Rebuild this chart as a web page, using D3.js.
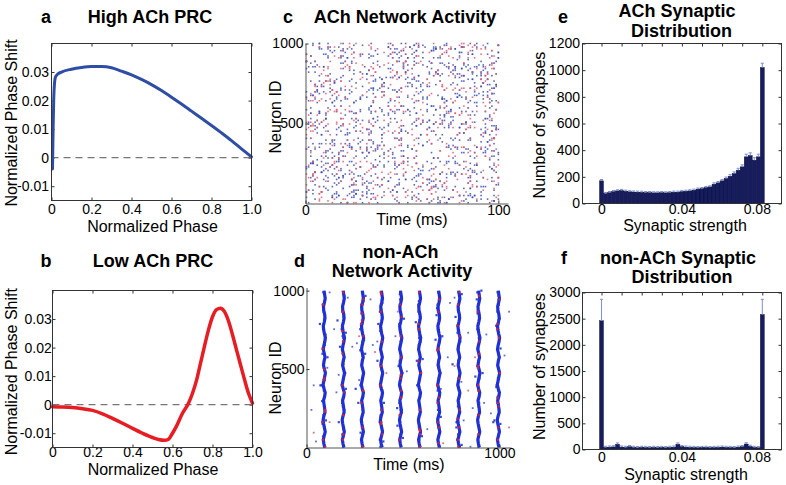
<!DOCTYPE html>
<html><head><meta charset="utf-8">
<script src="https://cdn.jsdelivr.net/npm/d3@7/dist/d3.min.js"></script>
<style>
html,body{margin:0;padding:0;background:#fff;}
svg{display:block;}
</style></head><body>
<svg id="fig" width="786" height="485" font-family="'Liberation Sans', Arial, Helvetica, sans-serif"></svg>
<script>
// ================= DATA =================
// (a) High ACh PRC
const highPhase = [0.005,0.008,0.011,0.015,0.02,0.03,0.05,0.1,0.15,0.2,0.25,0.3,0.35,0.4,0.45,0.5,0.55,0.6,0.65,0.7,0.75,0.8,0.85,0.9,0.95,1.0];
const highShift = [-0.004,0.010,0.020,0.026,0.0283,0.0292,0.0300,0.0310,0.0316,0.0319,0.0319,0.0315,0.0303,0.0290,0.0274,0.0256,0.0235,0.0212,0.0188,0.0163,0.0138,0.0113,0.0087,0.0060,0.0031,0.0003];
// (b) Low ACh PRC
const lowPhase = [0,0.05,0.1,0.15,0.2,0.25,0.3,0.35,0.4,0.45,0.5,0.53,0.56,0.58,0.6,0.62,0.65,0.68,0.7,0.72,0.74,0.76,0.78,0.8,0.82,0.84,0.86,0.88,0.9,0.92,0.94,0.96,0.98,1.0];
const lowShift = [-0.0007,-0.0008,-0.0010,-0.0014,-0.0020,-0.0032,-0.0048,-0.0065,-0.0083,-0.0100,-0.0115,-0.0122,-0.0125,-0.0121,-0.0100,-0.0075,-0.0030,0.0005,0.0040,0.0085,0.0145,0.0205,0.0262,0.0308,0.0333,0.0338,0.0326,0.0293,0.0245,0.0192,0.0140,0.0088,0.0040,0.0005];
const prcXTicks = [0,0.2,0.4,0.6,0.8,1.0];
const prcXLabels = ["0","0.2","0.4","0.6","0.8","1.0"];
const prcYTicks = [-0.01,0,0.01,0.02,0.03];
const prcYLabels = ["-0.01","0","0.01","0.02","0.03"];

// (e),(f) synaptic distributions
const synBins = [0,0.002,0.004,0.006,0.008,0.010,0.012,0.014,0.016,0.018,0.020,0.022,0.024,0.026,0.028,0.030,0.032,0.034,0.036,0.038,0.040,0.042,0.044,0.046,0.048,0.050,0.052,0.054,0.056,0.058,0.060,0.062,0.064,0.066,0.068,0.070,0.072,0.074,0.076,0.078,0.080];
const synAChCount = [170,75,82,90,95,98,92,88,86,85,84,82,82,80,80,82,80,82,85,85,90,92,95,100,108,112,120,125,145,155,170,188,205,225,250,275,350,360,325,350,1020];
const synAChErr   = [10,8,8,8,8,8,8,8,8,8,8,8,8,8,8,8,8,8,8,8,8,8,8,8,8,8,8,8,10,10,10,10,12,12,14,15,20,20,18,20,32];
const synNonCount = [2460,40,45,50,100,45,40,55,40,35,40,38,35,40,35,38,35,40,45,100,55,45,40,38,35,38,40,35,38,40,45,40,38,35,45,55,105,60,40,35,2580];
const synNonErr   = [410,22,22,22,25,22,22,22,22,22,22,22,22,22,22,22,22,22,22,25,22,22,22,22,22,22,22,22,22,22,22,22,22,22,22,22,25,22,22,22,290];
const synXTicks = [0,0.01,0.02,0.03,0.04,0.05,0.06,0.07,0.08];
const synXLabelTicks = [0,0.04,0.08];
const synXLabels = ["0","0.04","0.08"];
const synAChYTicks = [0,200,400,600,800,1000,1200];
const synNonYTicks = [0,500,1000,1500,2000,2500,3000];

// raster decoding table: position of a character in this string = grid index 0..89
const GRID = "aZ0#bY{cX5&dW)eV9+fU,gT2/hS:iR=7jQ@kP[]lO^mN4_nM`oL3|pK}qJ~$rI%sH'(tG*uF-.vE1wD;>xC?yB68zA";

// (c) ACh raster: chained characters, each adjacent pair = (time cell, neuron cell)
const spikesAChBlue = [
"k3#Tq}8Z.wB(m;Fr6Ux@j0N&eY%p9Hc]L*v4^g2R_X'aP{Q7,s+D1b~K$oE?iW5Ml=dG`8fS)t|zJ-",
"yA/nO3V:hC[u>I0r6e#2Wk*Pj9xb&Fm{Lq@5T-iS'zN;7gD%aU]8Rc+X1o?M|Ys4Hp(Ev=K_wf$B~Z,",
"Gt.l6J)dQ`3nA^hO:9uT#r&Wq0e]C5kP'y*V2M$xF-8bN|Ia{L;g7@Sz(D+4jR?mZ_1X%o=Hs6U~iY/",
"c]E>w3B`t9K,fQ&p5Ma{Gv$h0Dz'J;r8N)k*TLe2_S-4Ox=Yq|Ug6Ci#W@1mP%Z7sn.Fb+R^y?lA:dH~",
"X5o(j/V8gM'e3T{A0p]Kf;W#r6Ny@2cQ=lE*uI-8Za%9sD_Lh$4Bk|Gw?Rx^J)tP,v1S&Oi7Hm.b+FC~",
"U6n;q2Y'aE=k&T9f]Rv0L_Dh@p4Ow*I#zm%G-8cS{5iX)jB/P:1Ae^s~Kt3N$Wg7M|Fyr,Q?lu+Vb.ZJ",
"d8H`o0C%x5Sn*Ek]Wq'2Lz;A&f9U^Pr_Bj3G#Ty@m6Oc{I-4Ns$hV/Qa=7Yg)K~Db1X?Mw+e,lJ.iR|Fp",
"Z1k@u7D'T&h3Lx]o#Q;8Sb_Ve*2Jc(Ng%Wr5?Fm{Ay0Pi^6Ks-$Oz|9Rd=Ct4Hn)Ua,jG+Bw.lM7q~Ef",
"o4R]W9a;g&C1Ux'Kj*6Fs@H#2Ym_Nd%8Pt=Ai{3Lw-Eq$5Vb^Tz(0Gk)S?Oc+7Jn.Dr|Mh,IX1e~Bpfy",
"M2t`8Qe&Ax;Z4k]Ho'9W#c6Rv_Ky*1Pm%Dg{7Nu=3Si-Ea$5Lz^Fb(0Tq)Jn+Cw?8Ir.Gh|VdB,Ys~Ol",
"e9B]q3Nk'L&x0Sa;7Hw#Vi*5Gc_Rp%2Yn{Fu-8Do=Kj$4Az^Mt(1Wg)Qs?Eb+6Ix.Ul|Ph,3Cv~Tm9Jf",
"s5J'Az&c2Nu]8Pg;Kw#1Ho*6Dq_Tb%9Mx{3Ri-Gj=Ve$Fk^0Ly(7Qn)Ba?4Ct+Sr.Xm|8Ed,2Oh~Wi5U",
"b0Mx'7Fg&Rs]4Kn;1Ja#Yw*9Ct_Ee%Po{6Hz-3Di=Lu$8Gq^Uk(2Sb)Vm?5Nx+Ay.Fr|0Tc,7Ih~Qg3W",
"h7Cr]2Lp'Jm&6Wb;9Ng#Ax*1Tv_Sk%4Pe{8Hd-Fy=0Ri$Kz^5Mu(3Bo)Yl?7Gc+Ew.2Ua|Qj,9Os~Dt6I",
"v3Hq&8Zc'1Ep]Na;5Rk#Tg*7Mj_2Wy%Fl{4Kx-9Db=Ou$6Si^Lr(0Ce)Gn?3Az+Vh.8Pt|Jm,5Xf~Bq1Y"
].join("");
const spikesAChRed = [
"p4%Kd]9Ws'Bh2&Zm;Ex7#Nq*Lf0_Uj3%Gc{Yo-8Ra=Tk$5Iv^Ob(1Hy)Cn?6Mg+Sw.4Fz|Ae,8Pl~Di",
"Q6k'Hs&3Ta]Xn;0Jc#9Em*Vr_2Lb%Wg{5Oy-Az=8Pj$Fo^Kd(4Su)Ih?1Ng+Bx.7Rl|Mv,3Ct~Ye9Gq0",
"i2Tx]Ob'7Jk&Fa;Sm#4Hd*Lw_9Ce%Rv{1Pn-Zg=6Ey$Aq^3Ml(Uk)8Ws?Gi+0Nj.Dz|5Fo,Kc~Qb7Xh4",
"n8Ds'Wk&1Bq]Rf;5Lj#Jy*Ha_3Te%6Ou{Zc-Fx=0Im$9Gv^Pb(Sr)2Ag?Kn+Mh.7Ed|Cz,4Nl~Xi5Qw8",
"f1Rz]Kg'5Na&Ep;3Jt#Vh*7Ws_Dm%Cc{0Oy-9Lk=Fb$Ui^2Hq(6Pr)Gx?Sl+4Bj.Ae|8Td,1Mv~Yn3Zo6",
"w5Gc'Qj&8Lu]Ab;Tn#2Dx*Se_6Ik%4Pr{Ym-Hg=1Vf$Oz^9Mb(Cq)3Ja?Fs+7Nl.Ke|0Wh,Eo~5Rt8Xv2",
"a9Kq]Df'3Pw&Gm;6Bs#Ox*Jc_1Vi%Rn{8Ez-Lh=4Ty$Ua^7Nk(Fg)0Cl?Sb+2Mr.Hp|5Wj,Ad~Iv9Qe3X",
"t6Bn'Xg&4Ko]Sd;Hz#9Aq*Fl_2Ov%Mc{Jr-7Ei=Uw$0Py^5Gs(Lb)Th?3Rk+Nm.8Cf|Dj,1Wa~Vx6Ze4Q"
].join("");

// (d) non-ACh raster
const burstTimes = [92,191,290,389,488,586,686,790,893,995];      // ms
const burstNeuronGrid = [0,25,50,75,100,125,150,175,200,225,250,275,300,325,350,375,400,425,450,475,500,525,550,575,600,625,650,675,700,725,750,775,800,825,850,875,900,925,950,975,1000];
const burstShape = [3,-2,-5,0,5,1,-3,-6,-2,4,2,-1,-4,2,5,-1,-6,-2,2,6,1,-4,-1,4,0,-5,-2,3,6,1,-3,-5,0,4,2,-3,-4,1,5,2,-1]; // ms offset per neuron
// per burst: pairs (offset char, centred on 'Q'; neuron cell)
const burstSpikesBlue = [
"KzPbMfR#J)T9LqN.QeOwHSU]GkS4PmIxV~MaR0N%KeQrTdLjO_a3?kcV8uWHEp",
"OaLwQ3N&S^MkP8Rz)-TgK%JtUoQ>HcNvPyM2S{LhRlO*a'?JbQ9eVMGsT6NiOE",
"PqMcR2LxNy&QSfO7KkTzJ1U?QnH}MdP/RuSBN$LaOga6@XbpQ;VIGt9hNrPFM|",
"NgQvLbO4S'RnMyP0TjK(JeUDQsHwN+PkR`MiS5LfOZa#?uchQmVCGa7oNlP@Rx",
"RdNkOqMzQ%SvL3P_TbKhJ8UmQiHyNcP(MrRBSeLoO[b.>WcYQ2VgGn8TNxP:Lu",
"MxPgQjNaO-R5LsSrKwT)J?UfQcHkN~PzRvM1SnLdOHa{@ocLQ6VbG%9FNpPtMe",
"QbNrLzO9MeP&S-RkTmKxJ;UaQ_HgNvPlR=MwS0LyOta+?EbsQ{VnGj6INdPoR$",
"OjMcQwNlP5R|SyLeKcTaJ2UqQkH'NzPgRhMo,MSsLbOXa8@dcZQ;VrGe7vNmPi",
"LyRoNfPcO2MjQ}SbKnTwJ%UlQeH1NqPvR(MaSgLtOJbm?ycAQ4VhGz8ONkPxRu",
"NhPpQcMeO6RgSuLkKzT.JiU/QoH*NbPsR-MlS3LwOfa)>VdqQ8VxG@5eNjPnMy"
];
const burstSpikesRed = [
"MqP4SgN]Q,LxObTaKeRl","OzQ7NcRfLpPwM(SkTbKr","PdN1QsMhRyOaL-SjTxKu","QkM8NwOrP)RcLgSnTeKz","NbPjRxQ3M^OlLsSvTiKf",
"RmO5PgNzQaL&MuStTcKo","PwQ0NeMkRiOyL}SdTqKh","OsN9QlPbRdMxL*SgTzKa","QfP6RrNnOjMcL_SpTkKw","NuQ2PhOdRmMtL%SbTyKi"
];
// sparse spikes between bursts: pairs (time cell, neuron cell)
const sparseNonBlue = "#k$Q%3&z'B(e)7*V+m,J-a.T/10g4N7r;Hc@G[2]Dhe^5_xUiyWtlsoxAwc{8|R~b#T$9%p&F'fBsCD";
const sparseNonRed = "Ad#X2s=KcP^gkmv3yR~Lr0OwFj&e'n";

// ================= DRAW =================
const svg = d3.select("#fig");
const AX = "#333";
const FS_TICK = 14, FS_LAB = 16, FS_TTL = 18;

function label(x, y, s, size, o = {}) {
  const t = svg.append("text").attr("x", x).attr("y", y).text(s)
    .attr("font-size", size).attr("font-weight", o.bold ? "bold" : "normal")
    .attr("text-anchor", o.anchor || "middle").attr("fill", "#000");
  if (o.rot) t.attr("transform", `rotate(-90,${x},${y})`);
  return t;
}
function axis(fn, scale, vals, fmt, transform, pad, keepDomain) {
  const g = svg.append("g").attr("transform", transform);
  g.call(fn(scale).tickValues(vals).tickFormat(fmt).tickSize(-3).tickSizeOuter(0).tickPadding(pad));
  g.attr("font-family", null).attr("font-size", FS_TICK);
  g.selectAll("text").attr("fill", "#000");
  g.selectAll(".tick line").attr("stroke", AX);
  if (keepDomain) g.select(".domain").attr("stroke", "#555");
  else g.select(".domain").remove();
  return g;
}
const none = () => "";
function frame(x, y) {
  svg.append("rect").attr("x", x.range()[0]).attr("y", y.range()[1])
    .attr("width", x.range()[1] - x.range()[0]).attr("height", y.range()[0] - y.range()[1])
    .attr("fill", "none").attr("stroke", AX).attr("stroke-width", 1);
}

// ---------- PRC panels ----------
function prcPanel(x, y, phase, shift, color, width, pads) {
  const fmtX = d => prcXLabels[prcXTicks.indexOf(d)];
  const fmtY = d => prcYLabels[prcYTicks.indexOf(d)];
  axis(d3.axisBottom, x, prcXTicks, fmtX, `translate(0,${y.range()[0]})`, pads[0]);
  axis(d3.axisTop, x, prcXTicks, none, `translate(0,${y.range()[1]})`, 0);
  axis(d3.axisLeft, y, prcYTicks, fmtY, `translate(${x.range()[0]},0)`, pads[1]);
  axis(d3.axisRight, y, prcYTicks, none, `translate(${x.range()[1]},0)`, 0);
  svg.append("line").attr("x1", x(0)).attr("x2", x(1)).attr("y1", y(0)).attr("y2", y(0))
    .attr("stroke", "#777").attr("stroke-width", 1.3).attr("stroke-dasharray", "7,5");
  const line = d3.line().x(d => x(d[0])).y(d => y(d[1])).curve(d3.curveMonotoneX);
  svg.append("path").datum(phase.map((p, i) => [p, shift[i]])).attr("d", line)
    .attr("fill", "none").attr("stroke", color).attr("stroke-width", width)
    .attr("stroke-linejoin", "round").attr("stroke-linecap", "round");
  frame(x, y);
}
const xA = d3.scaleLinear().domain([0, 1]).range([51.5, 251.5]);
const yA = d3.scaleLinear().domain([-0.015, 0.04]).range([200.5, 43.5]);
prcPanel(xA, yA, highPhase, highShift, "#2e4ea6", 3, [4, 2.5]);
label(46, 22.5, "a", FS_TTL, {bold: true});
label(150, 22.5, "High ACh PRC", FS_TTL, {bold: true});
label(152.5, 231.5, "Normalized Phase", FS_LAB);
label(16.7, 123, "Normalized Phase Shift", FS_LAB, {rot: true});

const xB = d3.scaleLinear().domain([0, 1]).range([52.5, 252.5]);
const yB = d3.scaleLinear().domain([-0.015, 0.04]).range([447.5, 290.5]);
prcPanel(xB, yB, lowPhase, lowShift, "#e81d23", 3.5, [0, 0.8]);
label(46, 266.5, "b", FS_TTL, {bold: true});
label(153, 475, "Normalized Phase", FS_LAB);
label(153, 266.5, "Low ACh PRC", FS_TTL, {bold: true});
label(16.7, 371.7, "Normalized Phase Shift", FS_LAB, {rot: true});

// ---------- raster helpers ----------
const cell = c => GRID.indexOf(c);          // 0..89
const offCode = c => c.charCodeAt(0) - 81;  // 'Q' = 0
function chainPairs(str) { const out = []; for (let i = 0; i + 1 < str.length; i++) out.push([cell(str[i]), cell(str[i + 1])]); return out; }
function dots(data, x, y, color, size, op) {
  svg.append("g").selectAll("rect").data(data).join("rect")
    .attr("x", d => x(d[0]) - size / 2).attr("y", d => y(d[1]) - size / 2)
    .attr("width", size).attr("height", size).attr("fill", color).attr("opacity", op);
}

// ---------- (c) ACh network ----------
const xC = d3.scaleLinear().domain([0, 105]).range([305.5, 508]);
const yC = d3.scaleLinear().domain([0, 1000]).range([203.5, 43.5]);
const gridT = d3.scaleLinear().domain([0, 89]).range([0.5, 100]);
const gridN = d3.scaleLinear().domain([0, 89]).range([5, 1000]);
const cBlue = chainPairs(spikesAChBlue).map(d => [gridT(d[0]), gridN(d[1])]);
const cRed = chainPairs(spikesAChRed).map(d => [gridT(d[0]), gridN(d[1])]);
dots(cBlue, xC, yC, "#3e4fb8", 1.6, 0.85);
dots(cRed, xC, yC, "#e35a72", 1.6, 0.85);
axis(d3.axisLeft, yC, [500, 1000], d => String(d), `translate(${xC.range()[0]},0)`, 2, true);
axis(d3.axisBottom, xC, [0, 100], d => String(d), `translate(0,${yC.range()[0]})`, 1.5, true);
label(288, 22.5, "c", FS_TTL, {bold: true});
label(405, 22.5, "ACh Network Activity", FS_TTL, {bold: true});
label(412, 225, "Time (ms)", FS_LAB);
label(281, 117, "Neuron ID", FS_LAB, {rot: true});

// ---------- (d) non-ACh network ----------
const xD = d3.scaleLinear().domain([0, 1060]).range([306.5, 511]);
const yD = d3.scaleLinear().domain([0, 1020]).range([447.5, 287.5]);
const shapeAt = d3.scaleLinear().domain(burstNeuronGrid).range(burstShape);
const gridTD = d3.scaleLinear().domain([0, 89]).range([2, 1050]);
const offMs = 0.8;
const sparse = s => { const o = []; for (let i = 0; i + 1 < s.length; i += 2) o.push([gridTD(cell(s[i])), gridN(cell(s[i + 1]))]); return o; };
dots(sparse(sparseNonBlue), xD, yD, "#4455cc", 1.8, 0.85);
dots(sparse(sparseNonRed), xD, yD, "#e05a70", 1.8, 0.85);
const burst = (s, t) => { const o = []; for (let i = 0; i + 1 < s.length; i += 2) { const n = gridN(cell(s[i + 1])); o.push([t + shapeAt(n) + offCode(s[i]) * offMs, n]); } return o; };
const bandLine = d3.line().x(d => xD(d[0])).y(d => yD(d[1]));
burstTimes.forEach((t, k) => {
  svg.append("path").datum(burstNeuronGrid.map((n, j) => [t + burstShape[j], n]))
    .attr("d", bandLine).attr("fill", "none").attr("stroke", "#1f2fd6")
    .attr("stroke-width", 3.2).attr("stroke-linejoin", "round");
  dots(burst(burstSpikesBlue[k], t), xD, yD, "#2536cf", 2.2, 0.9);
  dots(burst(burstSpikesRed[k], t), xD, yD, "#d8203f", 2.2, 0.9);
});
axis(d3.axisLeft, yD, [500, 1000], d => String(d), `translate(${xD.range()[0]},0)`, 2, true);
axis(d3.axisBottom, xD, [0, 1000], d => String(d), `translate(0,${yD.range()[0]})`, 1, true);
label(299.5, 266.5, "d", FS_TTL, {bold: true});
label(400.5, 258.3, "non-ACh", FS_TTL, {bold: true});
label(402, 277.3, "Network Activity", FS_TTL, {bold: true});
label(409, 470, "Time (ms)", FS_LAB);
label(280.5, 378, "Neuron ID", FS_LAB, {rot: true});

// ---------- (e),(f) histograms ----------
function histPanel(x, y, counts, errs, yTicks, pads) {
  const fmtX = d => { const i = synXLabelTicks.indexOf(d); return i < 0 ? "" : synXLabels[i]; };
  const gb = axis(d3.axisBottom, x, synXTicks, fmtX, `translate(0,${y.range()[0]})`, pads[0]);
  gb.selectAll(".tick text").filter(d => d === 0.08).attr("dx", -5.5);
  axis(d3.axisTop, x, synXTicks, none, `translate(0,${y.range()[1]})`, 0);
  axis(d3.axisLeft, y, yTicks, d => String(d), `translate(${x.range()[0]},0)`, pads[1]);
  axis(d3.axisRight, y, yTicks, none, `translate(${x.range()[1]},0)`, 0);
  const bw = x(synBins[1]) - x(synBins[0]);
  const g = svg.append("g");
  g.selectAll("rect").data(counts).join("rect")
    .attr("x", (d, i) => x(synBins[i]) - bw / 2).attr("width", bw)
    .attr("y", d => y(d)).attr("height", d => y(0) - y(d))
    .attr("fill", "#161c5e").attr("stroke", "#05082a").attr("stroke-width", 0.4);
  const eg = svg.append("g").attr("stroke", "#7d8fd6").attr("stroke-width", 1);
  counts.forEach((c, i) => {
    const cx = x(synBins[i]);
    eg.append("line").attr("x1", cx).attr("x2", cx).attr("y1", y(c)).attr("y2", y(c + errs[i]));
    eg.append("line").attr("x1", cx - 1.6).attr("x2", cx + 1.6).attr("y1", y(c + errs[i])).attr("y2", y(c + errs[i]));
  });
  frame(x, y);
}
const xE = d3.scaleLinear().domain([-0.00945, 0.08955]).range([582.5, 781.5]);
const yE = d3.scaleLinear().domain([0, 1200]).range([203.5, 43.5]);
histPanel(xE, yE, synAChCount, synAChErr, synAChYTicks, [0.5, 2.5]);
label(563, 22.5, "e", FS_TTL, {bold: true});
label(677, 17.3, "ACh Synaptic", FS_TTL, {bold: true});
label(681.5, 37.3, "Distribution", FS_TTL, {bold: true});
label(685, 230.5, "Synaptic strength", FS_LAB);
label(545, 125, "Number of synapses", FS_LAB, {rot: true});

const xF = d3.scaleLinear().domain([-0.00945, 0.08955]).range([582.5, 781.5]);
const yF = d3.scaleLinear().domain([0, 3000]).range([449.5, 292.5]);
histPanel(xF, yF, synNonCount, synNonErr, synNonYTicks, [3, 2]);
label(564, 264, "f", FS_TTL, {bold: true});
label(678, 264, "non-ACh Synaptic", FS_TTL, {bold: true});
label(682, 283.3, "Distribution", FS_TTL, {bold: true});
label(686, 479.5, "Synaptic strength", FS_LAB);
label(545, 366.7, "Number of synapses", FS_LAB, {rot: true});
</script>
</body></html>
